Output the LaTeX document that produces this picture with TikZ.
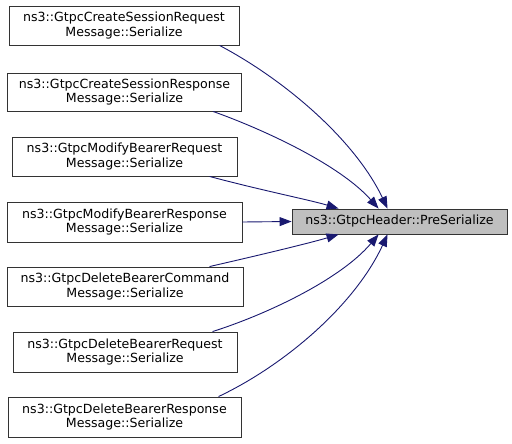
\documentclass[tikz,border=0pt]{standalone}
\usepackage{fontspec}
\setmainfont{DejaVu Sans}
\usetikzlibrary{arrows.meta,calc}
\definecolor{edgecol}{HTML}{191970}
\definecolor{targetfill}{HTML}{BFBFBF}
\begin{document}
\begin{tikzpicture}[x=1pt,y=-1pt,
  box/.style={draw=black!80,line width=0.9pt,fill=white,align=center,inner sep=0pt,font=\fontsize{12.6}{14.5}\selectfont},
  tbox/.style={box,fill=targetfill},
  edge/.style={draw=edgecol,line width=0.9pt,-{Triangle[length=12pt,width=9pt]}}]
\useasboundingbox (0,0) rectangle (512,444);
\node[box,minimum width=230pt,minimum height=39pt] (b1) at (124,25.5) {ns3::GtpcCreateSessionRequest\\Message::Serialize};
\node[box,minimum width=234pt,minimum height=38pt] (b2) at (124.5,92) {ns3::GtpcCreateSessionResponse\\Message::Serialize};
\node[box,minimum width=225pt,minimum height=39pt] (b3) at (124.5,156.5) {ns3::GtpcModifyBearerRequest\\Message::Serialize};
\node[box,minimum width=235pt,minimum height=40pt] (b4) at (124.5,222) {ns3::GtpcModifyBearerResponse\\Message::Serialize};
\node[box,minimum width=236pt,minimum height=39pt] (b5) at (125,286.5) {ns3::GtpcDeleteBearerCommand\\Message::Serialize};
\node[box,minimum width=224pt,minimum height=40pt] (b6) at (125,352) {ns3::GtpcDeleteBearerRequest\\Message::Serialize};
\node[box,minimum width=233pt,minimum height=40pt] (b7) at (124.5,417) {ns3::GtpcDeleteBearerResponse\\Message::Serialize};
\node[tbox,minimum width=215pt,minimum height=25pt] (t) at (399.5,221.5) {ns3::GtpcHeader::PreSerialize};
\draw[edge] ($(b1.south west)+(211,0)$) .. controls (285,80) and (355,140) .. ($(t.north west)+(96,0)$);
\draw[edge] ($(b2.south west)+(206,0)$) .. controls (265,130) and (340,165) .. ($(t.north west)+(87,0)$);
\draw[edge] ($(b3.south west)+(198,0)$) .. controls (260,190) and (310,200) .. ($(t.north west)+(47,0)$);
\draw[edge] (b4.east) -- (t.west);
\draw[edge] ($(b5.north west)+(203,0)$) .. controls (260,255) and (310,243) .. ($(t.south west)+(47,0)$);
\draw[edge] ($(b6.north west)+(200,0)$) .. controls (265,315) and (340,280) .. ($(t.south west)+(87,0)$);
\draw[edge] ($(b7.north west)+(211,0)$) .. controls (285,365) and (355,305) .. ($(t.south west)+(96,0)$);
\end{tikzpicture}
\end{document}
